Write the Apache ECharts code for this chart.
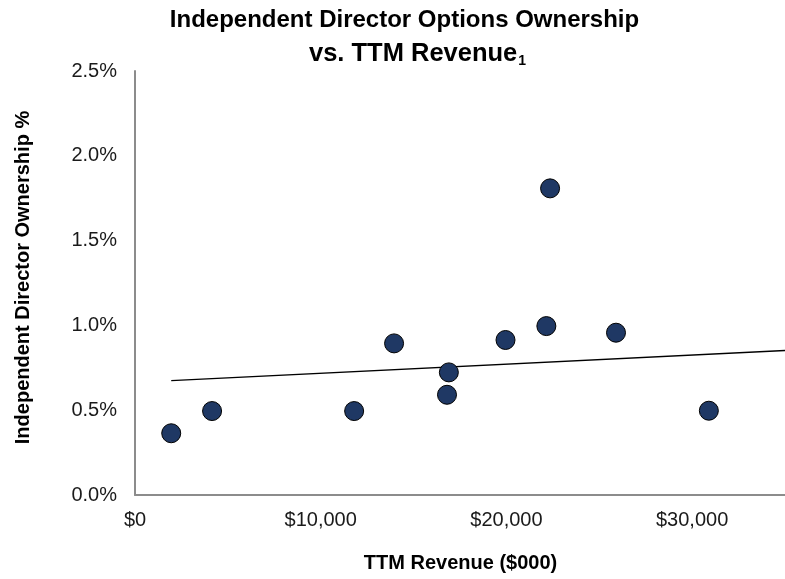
<!DOCTYPE html>
<html>
<head>
<meta charset="utf-8">
<script src="https://cdn.jsdelivr.net/npm/echarts@6/dist/echarts.min.js"></script>
<style>
html,body{margin:0;padding:0;background:#fff;}
#chart{width:785px;height:579px;}
</style>
</head>
<body>
<div id="chart"></div>
<script>
// Data
const revenue = [1950, 4150, 11800, 13950, 16900, 16800, 19950, 22150, 25900, 30900, 22350];
const ownership = [0.364, 0.495, 0.495, 0.894, 0.723, 0.591, 0.914, 0.996, 0.957, 0.497, 1.808];
const trendX = [1950, 35000];
const trendY = [0.674, 0.852];
const titleLine1 = 'Independent Director Options Ownership';
const titleLine2 = 'vs. TTM Revenue';
const titleNote = '1';
const xAxisTitle = 'TTM Revenue ($000)';
const yAxisTitle = 'Independent Director Ownership %';

const FONT = "'Liberation Sans', Arial, sans-serif";
const chart = echarts.init(document.getElementById('chart'), null, {renderer: 'canvas'});

const points = revenue.map((x, i) => [x, ownership[i]]);
const trend = trendX.map((x, i) => [x, trendY[i]]);

chart.setOption({
  animation: false,
  backgroundColor: '#fff',
  grid: {left: 135, right: -5, top: 71, bottom: 84, containLabel: false},
  xAxis: {
    type: 'value', min: 0, max: 35000, interval: 10000,
    axisLine: {show: true, lineStyle: {color: '#8c8c8c', width: 2}},
    axisTick: {show: false},
    splitLine: {show: false},
    axisLabel: {
      show: true, margin: 15, fontSize: 20, color: '#1a1a1a', fontFamily: FONT,
      showMaxLabel: false,
      formatter: v => v > 30000 ? '' : '$' + v.toLocaleString('en-US')
    }
  },
  yAxis: {
    type: 'value', min: 0, max: 2.5, interval: 0.5,
    axisLine: {show: true, lineStyle: {color: '#8c8c8c', width: 2}},
    axisTick: {show: false},
    splitLine: {show: false},
    axisLabel: {
      show: true, margin: 18, fontSize: 20, color: '#1a1a1a', fontFamily: FONT,
      formatter: v => v.toFixed(1) + '%'
    }
  },
  series: [
    {
      type: 'line', data: trend, showSymbol: false, symbol: 'none', z: 1,
      lineStyle: {color: '#000', width: 1.3}, silent: true
    },
    {
      type: 'scatter', data: points, symbolSize: 19, z: 3,
      itemStyle: {color: '#1f3864', borderColor: '#000', borderWidth: 1, opacity: 1}
    }
  ],
  graphic: [
    {type: 'text', z: 10, style: {text: titleLine1, x: 404.5, y: 20, textAlign: 'center', textVerticalAlign: 'middle', verticalAlign: 'middle', font: 'bold 24px ' + FONT, fill: '#000'}},
    {type: 'text', z: 10, style: {
      text: '{m|' + titleLine2 + '}{s|' + titleNote + '}',
      x: 417.5, y: 54, textAlign: 'center', align: 'center', verticalAlign: 'middle', textVerticalAlign: 'middle',
      rich: {
        m: {font: 'bold 25.5px ' + FONT, fill: '#000', color: '#000', lineHeight: 28},
        s: {font: 'bold 14px ' + FONT, fill: '#000', color: '#000', verticalAlign: 'bottom', lineHeight: 14, padding: [0, 0, 0, 1]}
      }
    }},
    {type: 'text', z: 10, rotation: Math.PI / 2, x: 23, y: 277.5, style: {text: yAxisTitle, x: 0, y: 0, textAlign: 'center', align: 'center', verticalAlign: 'middle', textVerticalAlign: 'middle', font: 'bold 20px ' + FONT, fill: '#000'}},
    {type: 'text', z: 10, style: {text: xAxisTitle, x: 460.5, y: 563, textAlign: 'center', align: 'center', verticalAlign: 'middle', textVerticalAlign: 'middle', font: 'bold 20px ' + FONT, fill: '#000'}}
  ]
});
</script>
</body>
</html>
